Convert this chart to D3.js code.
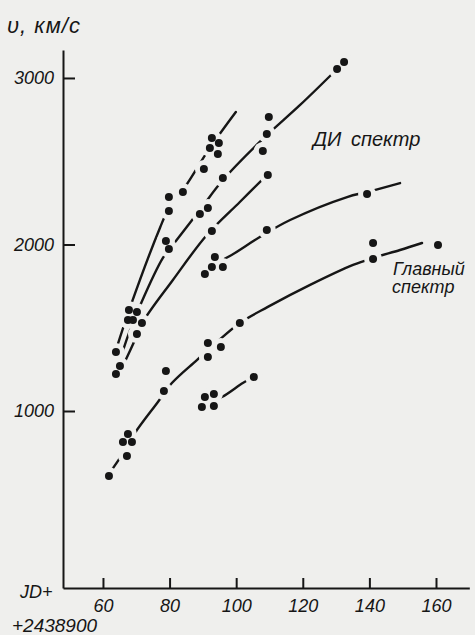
<!DOCTYPE html>
<html>
<head>
<meta charset="utf-8">
<script src="https://cdn.jsdelivr.net/npm/d3@7"></script>
<style>
  body { margin: 0; background: #efefed; }
  svg text { font-family: "Liberation Sans", Arial, sans-serif; font-style: italic; fill: #161616; }
</style>
</head>
<body>
<div id="chart"></div>
<script>
// observed points: JD - 2438900 and velocity, km/s
var dotJD = [132.4, 130.3, 109.8, 109.2, 108.0, 109.5, 92.7, 94.8, 92.1, 94.5, 90.3, 96.0, 84.0, 79.8,
  79.8, 91.5, 89.1, 92.7, 109.2, 139.3, 78.9, 79.8, 93.6, 92.7, 96.0, 90.6, 141.1, 141.1, 160.6,
  67.8, 70.2, 67.5, 69.0, 71.7, 70.2, 63.9, 65.1, 63.9, 101.1, 91.5, 95.4, 91.5, 78.9, 78.3, 105.3,
  90.6, 93.3, 89.7, 93.3, 67.5, 66.0, 68.7, 67.2, 61.8];
var dotV = [3096, 3054, 2766, 2664, 2562, 2417, 2640, 2610, 2580, 2544, 2453, 2399, 2315, 2285,
  2201, 2219, 2183, 2081, 2087, 2303, 2021, 1973, 1925, 1865, 1865, 1823, 2009, 1913, 1997,
  1607, 1595, 1547, 1547, 1529, 1462, 1354, 1270, 1222, 1529, 1408, 1384, 1324, 1240, 1120, 1204,
  1084, 1102, 1024, 1030, 862, 814, 814, 730, 610];

// hand drawn curves through the systems
var curveA = [[63.9, 1366], [68.4, 1637], [77.1, 2099], [79.8, 2219], [84.6, 2345], [92.1, 2580], [99.9, 2796]];
var curveB = [[65.1, 1306], [67.8, 1468], [71.1, 1631], [78.0, 1919], [81.9, 2021], [89.1, 2207], [96.0, 2387],
  [107.7, 2628], [119.2, 2838], [129.4, 3036]];
var curveC = [[65.7, 1258], [69.6, 1426], [72.0, 1535], [81.0, 1787], [91.2, 2057], [101.1, 2255], [108.6, 2405]];
var curveD = [[94.5, 1895], [98.1, 1931], [107.1, 2045], [116.2, 2147], [133.3, 2285], [139.3, 2315], [149.2, 2369]];
var curveE = [[61.8, 622], [65.7, 736], [69.6, 868], [76.5, 1054], [80.7, 1168], [88.2, 1306], [94.2, 1414],
  [101.1, 1529], [109.5, 1625], [122.2, 1757], [135.1, 1877], [141.1, 1919], [149.2, 1967], [155.8, 2009]];
var curveG = [[92.1, 1060], [95.7, 1084], [102.0, 1168], [104.7, 1198]];

var xTicks = [60, 80, 100, 120, 140, 160];
var yTicks = [1000, 2000, 3000];

var paper = "#efefed", ink = "#161616";

var svg = d3.select("#chart").append("svg")
  .attr("width", 475)
  .attr("height", 635);

svg.append("rect").attr("width", 475).attr("height", 635).attr("fill", paper);

var x = d3.scaleLinear().domain([48, 170]).range([63, 469.3]);
var y = d3.scaleLinear().domain([-63, 3168]).range([588, 50]);

// axes, ticks pointing inside
var xAxis = svg.append("g")
  .attr("transform", "translate(0," + y(-63) + ")")
  .call(d3.axisBottom(x).tickValues(xTicks).tickFormat(d3.format("d"))
    .tickSizeInner(-10).tickSizeOuter(0).tickPadding(11));
var yAxis = svg.append("g")
  .attr("transform", "translate(" + x(48) + ",0)")
  .call(d3.axisLeft(y).tickValues(yTicks).tickFormat(d3.format("d"))
    .tickSizeInner(-12).tickSizeOuter(0).tickPadding(9));

[xAxis, yAxis].forEach(function (a) {
  a.attr("font-size", 18);
  a.selectAll("path, line").attr("stroke", ink).attr("stroke-width", 2);
  a.selectAll("text").attr("fill", ink);
});

// curves
var line = d3.line()
  .x(function (d) { return x(d[0]); })
  .y(function (d) { return y(d[1]); })
  .curve(d3.curveCatmullRom.alpha(0.5));

svg.append("g").selectAll("path")
  .data([curveA, curveB, curveC, curveD, curveE, curveG])
  .enter().append("path")
  .attr("d", line)
  .attr("fill", "none")
  .attr("stroke", ink)
  .attr("stroke-width", 2.4)
  .attr("stroke-linecap", "round");

// lines stop short of each point
var pts = dotJD.map(function (d, i) { return [d, dotV[i]]; });

svg.append("g").selectAll("circle")
  .data(pts)
  .enter().append("circle")
  .attr("cx", function (d) { return x(d[0]); })
  .attr("cy", function (d) { return y(d[1]); })
  .attr("r", 9)
  .attr("fill", paper);

svg.append("g").selectAll("circle")
  .data(pts)
  .enter().append("circle")
  .attr("cx", function (d) { return x(d[0]); })
  .attr("cy", function (d) { return y(d[1]); })
  .attr("r", 4)
  .attr("fill", ink);

// labels
svg.append("text").attr("x", 7).attr("y", 33).attr("font-size", 22)
  .attr("letter-spacing", 1).text("υ, км/с");
svg.append("text").attr("x", 20).attr("y", 598).attr("font-size", 18).text("JD+");
svg.append("text").attr("x", 12).attr("y", 632).attr("font-size", 19).text("+2438900");
svg.append("text").attr("x", 313).attr("y", 146).attr("font-size", 20)
  .attr("word-spacing", 4).text("ДИ спектр");
svg.append("text").attr("x", 393).attr("y", 275).attr("font-size", 18).text("Главный");
svg.append("text").attr("x", 392).attr("y", 293).attr("font-size", 18).text("спектр");
</script>
</body>
</html>
